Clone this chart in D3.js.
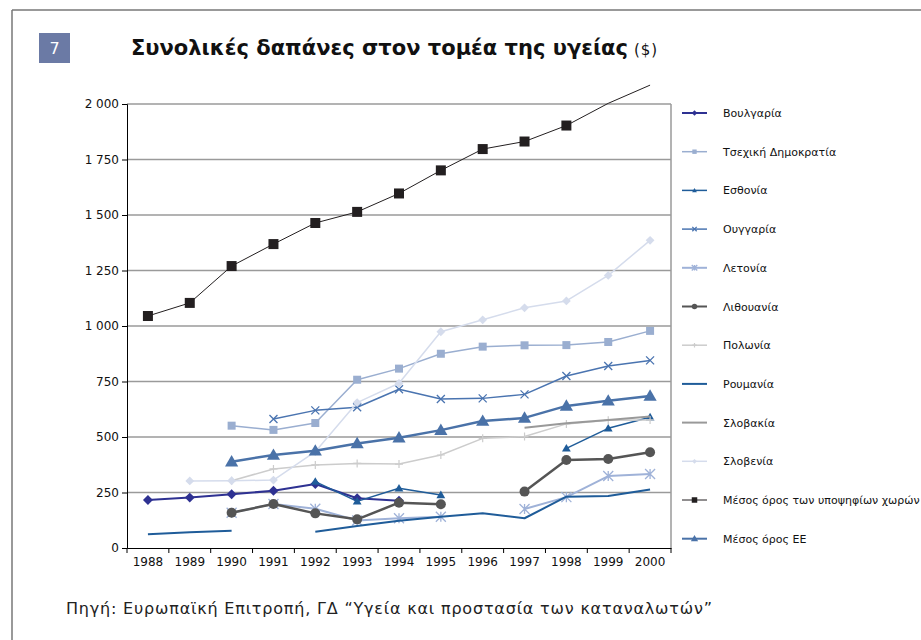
<!DOCTYPE html>
<html>
<head>
<meta charset="utf-8">
<script src="https://cdn.jsdelivr.net/npm/d3@7"></script>
<style>
  body { margin: 0; background: #fff; }
  svg { display: block; font-family: "DejaVu Sans", Verdana, sans-serif; }
</style>
</head>
<body>
<svg id="chart" width="921" height="640"></svg>
<script>
// chart values (null = no value that year)
var years = [1988, 1989, 1990, 1991, 1992, 1993, 1994, 1995, 1996, 1997, 1998, 1999, 2000];
var yTicks = [0, 250, 500, 750, 1000, 1250, 1500, 1750, 2000];

var bulgaria  = [216, 227, 242, 258, 288, 224, 213, null, null, null, null, null, null];
var czech     = [null, null, 551, 532, 563, 758, 808, 875, 907, 913, 914, 928, 978];
var estonia   = [null, null, null, null, 299, 210, 269, 239, null, null, 449, 539, 589];
var hungary   = [null, null, null, 581, 620, 634, 715, 671, 674, 692, 775, 820, 845];
var latvia    = [null, null, 159, 198, 177, 124, 134, 141, null, 176, 229, 324, 333];
var lithuania = [null, null, 159, 198, 156, 129, 204, 197, null, 254, 396, 401, 431];
var poland    = [null, null, 303, 356, 374, 381, 378, 419, 494, 502, 559, 575, 577];
var romania   = [62, 71, 78, null, 73, 99, 123, 141, 156, 134, 231, 234, 264];
var slovakia  = [null, null, null, null, null, null, null, null, null, 542, 562, 577, 592];
var slovenia  = [null, 302, 303, 306, 434, 655, 742, 974, 1028, 1082, 1113, 1228, 1386];
var candAvg   = [1045, 1104, 1270, 1369, 1464, 1514, 1597, 1701, 1797, 1831, 1903, 2003, 2085];
var euAvg     = [null, null, 389, 419, 438, 471, 497, 531, 572, 586, 640, 663, 685];

var seriesNames = ["Βουλγαρία", "Τσεχική Δημοκρατία", "Εσθονία", "Ουγγαρία", "Λετονία", "Λιθουανία",
                   "Πολωνία", "Ρουμανία", "Σλοβακία", "Σλοβενία", "Μέσος όρος των υποψηφίων χωρών", "Μέσος όρος ΕΕ"];

var series = [
  {name: seriesNames[0],  values: bulgaria,  color: "#2e3192", width: 2,   marker: "diamond",  size: 9},
  {name: seriesNames[1],  values: czech,     color: "#9aaed0", width: 1.5, marker: "square",   size: 8},
  {name: seriesNames[2],  values: estonia,   color: "#1f5c99", width: 1.5, marker: "triangle", size: 8},
  {name: seriesNames[3],  values: hungary,   color: "#4a74b0", width: 1.5, marker: "cross",    size: 8},
  {name: seriesNames[4],  values: latvia,    color: "#9fb2d8", width: 2,   marker: "star",     size: 10},
  {name: seriesNames[5],  values: lithuania, color: "#555555", width: 2.5, marker: "circle",   size: 10},
  {name: seriesNames[6],  values: poland,    color: "#cccccc", width: 1.5, marker: "plus",     size: 8},
  {name: seriesNames[7],  values: romania,   color: "#1f5c99", width: 2,   marker: null,       size: 0},
  {name: seriesNames[8],  values: slovakia,  color: "#999999", width: 2,   marker: null,       size: 0},
  {name: seriesNames[9],  values: slovenia,  color: "#d5dcec", width: 1.5, marker: "diamond",  size: 8},
  {name: seriesNames[10], values: candAvg,   color: "#231f20", width: 1,   marker: "square",   size: 10},
  {name: seriesNames[11], values: euAvg,     color: "#4a72a8", width: 2.5, marker: "triangle", size: 12}
];

var svg = d3.select("#chart");

// page frame
svg.append("line").attr("x1", 12).attr("y1", 10).attr("x2", 921).attr("y2", 10)
   .attr("stroke", "#777").attr("stroke-width", 1.5);
svg.append("line").attr("x1", 12).attr("y1", 10).attr("x2", 12).attr("y2", 640)
   .attr("stroke", "#777").attr("stroke-width", 1.5);

// number box + title
svg.append("rect").attr("x", 39).attr("y", 33).attr("width", 31).attr("height", 30).attr("fill", "#6b7aa5");
svg.append("text").attr("x", 54.5).attr("y", 54).attr("text-anchor", "middle")
   .attr("fill", "#fff").attr("font-size", "16px").text("7");

svg.append("text").attr("x", 131).attr("y", 55).attr("fill", "#111")
   .attr("font-weight", "bold").attr("font-size", "21px")
   .attr("textLength", 497).attr("lengthAdjust", "spacing")
   .text("Συνολικές δαπάνες στον τομέα της υγείας");
svg.append("text").attr("x", 634).attr("y", 55).attr("fill", "#111").attr("font-size", "15px")
   .attr("textLength", 23).attr("lengthAdjust", "spacing").text("($)");

// scales
var pL = 127, pR = 671, pT = 104, pB = 548;
var x = d3.scaleBand().domain(years).range([pL, pR]).padding(0);
var y = d3.scaleLinear().domain([0, 2000]).range([pB, pT]);
var cx = function(i) { return x(years[i]) + x.bandwidth() / 2; };

// grid
svg.append("g").selectAll("line").data(yTicks.filter(function(d) { return d > 0; })).enter().append("line")
   .attr("x1", pL).attr("x2", pR)
   .attr("y1", function(d) { return y(d); }).attr("y2", function(d) { return y(d); })
   .attr("stroke", "#9a9a9a").attr("stroke-width", 1.5);
svg.append("line").attr("x1", pR).attr("x2", pR).attr("y1", pT).attr("y2", pB)
   .attr("stroke", "#9a9a9a").attr("stroke-width", 1.5);

// y axis
var fmt = function(d) { return d3.format(",")(d).replace(/,/g, " "); };
var yAxis = svg.append("g").attr("transform", "translate(" + pL + ",0)")
   .call(d3.axisLeft(y).tickValues(yTicks).tickFormat(fmt).tickSize(5).tickPadding(3));
yAxis.select(".domain").attr("stroke", "#000");
yAxis.selectAll("text").attr("font-size", "12px").attr("fill", "#111").attr("font-family", "DejaVu Sans, sans-serif");
yAxis.selectAll(".tick line").attr("stroke", "#000");

// x axis: labels at band centres, ticks at band edges
var xAxis = svg.append("g").attr("transform", "translate(0," + pB + ")")
   .call(d3.axisBottom(x).tickSize(0).tickPadding(9));
xAxis.select(".domain").attr("stroke", "#000");
xAxis.selectAll("text").attr("font-size", "12px").attr("fill", "#111").attr("font-family", "DejaVu Sans, sans-serif");
var edges = years.map(function(d) { return x(d); }).concat([x(years[years.length - 1]) + x.bandwidth()]);
xAxis.selectAll("line.edge").data(edges).enter().append("line").attr("class", "edge")
   .attr("x1", function(d) { return d; }).attr("x2", function(d) { return d; })
   .attr("y1", 0).attr("y2", 5).attr("stroke", "#000");

// markers
function drawMarker(g, type, px, py, s, color) {
  var h = s / 2;
  if (type === "square") {
    g.append("rect").attr("x", px - h).attr("y", py - h).attr("width", s).attr("height", s).attr("fill", color);
  } else if (type === "diamond") {
    g.append("path").attr("d", "M" + px + "," + (py - h * 1.1) + "L" + (px + h * 1.1) + "," + py +
       "L" + px + "," + (py + h * 1.1) + "L" + (px - h * 1.1) + "," + py + "Z").attr("fill", color);
  } else if (type === "triangle") {
    g.append("path").attr("d", "M" + px + "," + (py - h * 1.1) + "L" + (px + h * 1.1) + "," + (py + h * 0.8) +
       "L" + (px - h * 1.1) + "," + (py + h * 0.8) + "Z").attr("fill", color);
  } else if (type === "circle") {
    g.append("circle").attr("cx", px).attr("cy", py).attr("r", h).attr("fill", color);
  } else if (type === "cross") {
    g.append("path").attr("d", "M" + (px - h) + "," + (py - h) + "L" + (px + h) + "," + (py + h) +
       "M" + (px - h) + "," + (py + h) + "L" + (px + h) + "," + (py - h))
     .attr("stroke", color).attr("stroke-width", 1.3).attr("fill", "none");
  } else if (type === "plus") {
    g.append("path").attr("d", "M" + (px - h) + "," + py + "L" + (px + h) + "," + py +
       "M" + px + "," + (py - h) + "L" + px + "," + (py + h))
     .attr("stroke", color).attr("stroke-width", 1.2).attr("fill", "none");
  } else if (type === "star") {
    g.append("path").attr("d", "M" + (px - h) + "," + (py - h) + "L" + (px + h) + "," + (py + h) +
       "M" + (px - h) + "," + (py + h) + "L" + (px + h) + "," + (py - h) +
       "M" + px + "," + (py - h) + "L" + px + "," + (py + h))
     .attr("stroke", color).attr("stroke-width", 1.3).attr("fill", "none");
  }
}

var line = d3.line()
   .defined(function(d) { return d.v !== null; })
   .x(function(d) { return cx(d.i); })
   .y(function(d) { return y(d.v); });

series.forEach(function(s) {
  var pts = s.values.map(function(v, i) { return {v: v, i: i}; });
  var g = svg.append("g");
  g.append("path").datum(pts).attr("d", line)
   .attr("fill", "none").attr("stroke", s.color).attr("stroke-width", s.width).attr("stroke-linejoin", "round");
  if (s.marker) {
    pts.forEach(function(p) {
      if (p.v !== null && p.v <= 2000) drawMarker(g, s.marker, cx(p.i), y(p.v), s.size, s.color);
    });
  }
});

// legend
var legY0 = 113, legStep = 38.7;
series.forEach(function(s, k) {
  var ly = legY0 + k * legStep;
  var g = svg.append("g");
  g.append("line").attr("x1", 682).attr("x2", 707).attr("y1", ly).attr("y2", ly)
   .attr("stroke", s.color).attr("stroke-width", Math.min(s.width, 2));
  if (s.marker) drawMarker(g, s.marker, 694.5, ly, Math.max(4, s.size * 0.55), s.color);
  g.append("text").attr("x", 723).attr("y", ly + 4).attr("font-size", "11px").attr("fill", "#111").text(s.name);
});

// source
svg.append("text").attr("x", 66).attr("y", 614).attr("font-size", "16px").attr("fill", "#222")
   .attr("textLength", 646).attr("lengthAdjust", "spacing")
   .text("Πηγή: Ευρωπαϊκή Επιτροπή, ΓΔ “Υγεία και προστασία των καταναλωτών”");
</script>
</body>
</html>
